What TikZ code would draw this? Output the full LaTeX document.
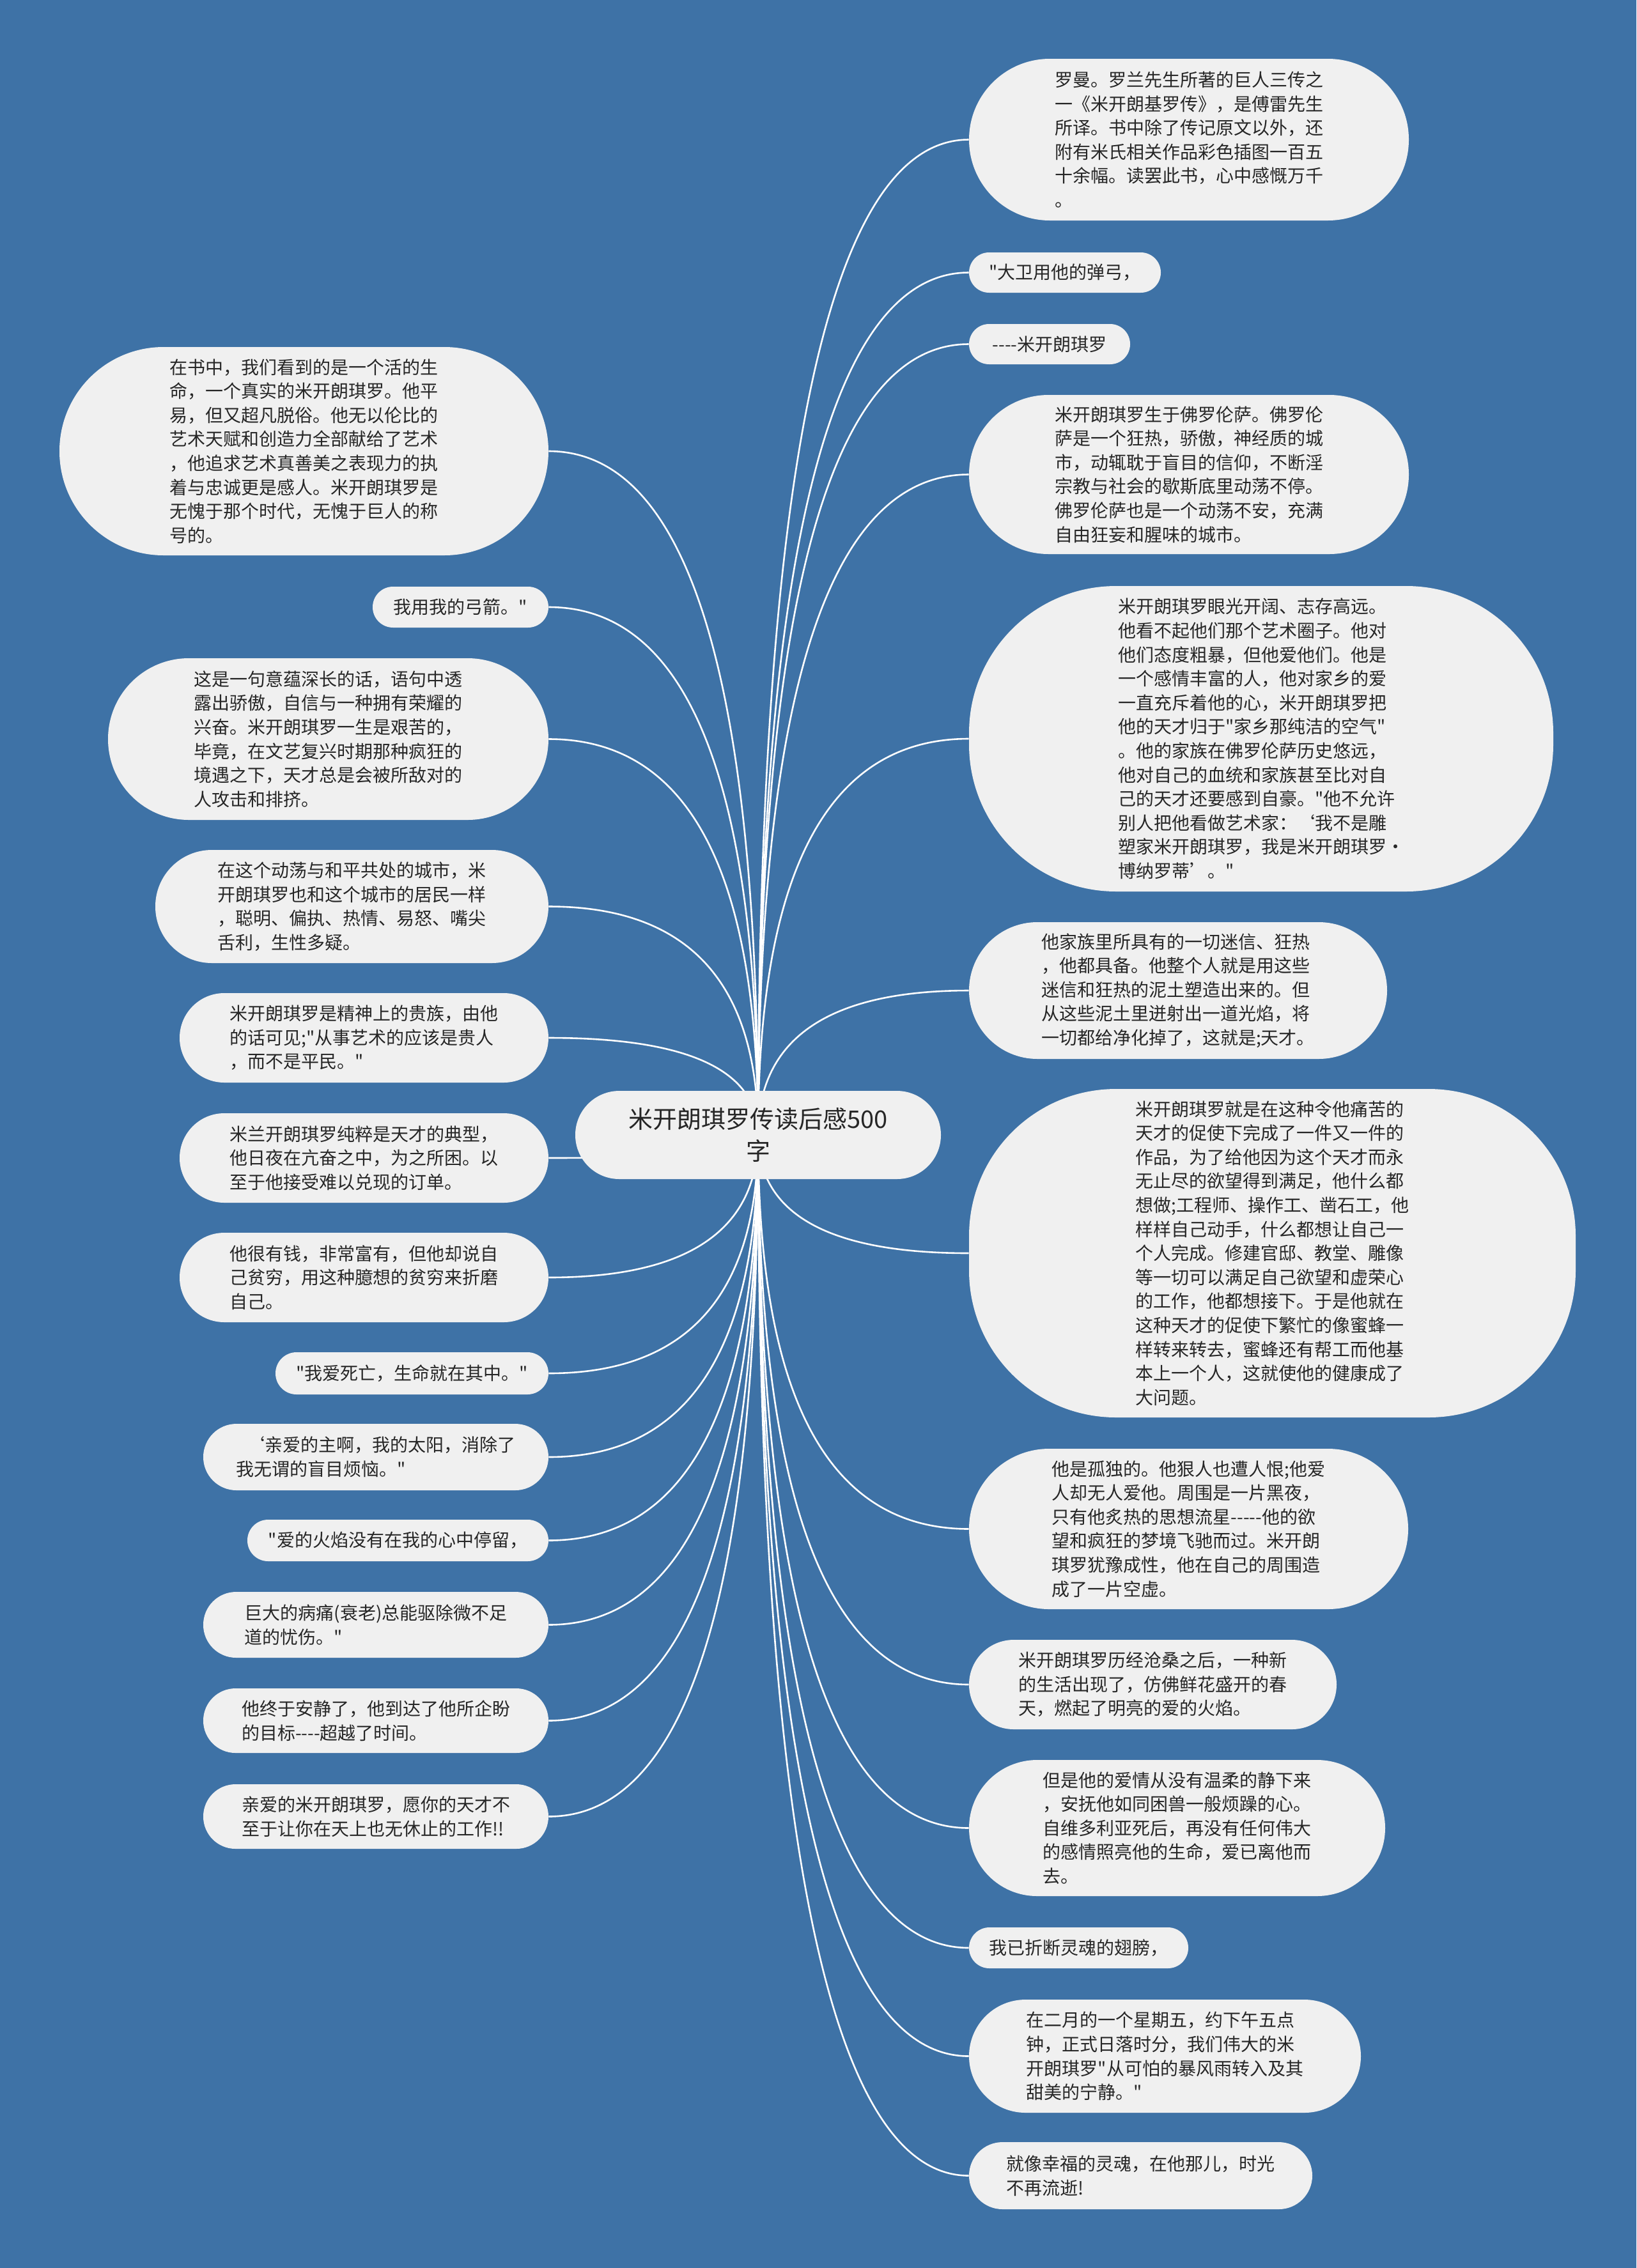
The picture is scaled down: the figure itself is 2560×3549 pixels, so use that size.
\documentclass[tikz,border=0pt]{standalone}
\usepackage{fontspec}
\setmainfont{Noto Sans CJK SC}[Ligatures=TeXOff]
\usetikzlibrary{calc}
\definecolor{bgc}{HTML}{3E72A6}
\definecolor{nodef}{HTML}{F0F0F0}
\definecolor{txtc}{HTML}{262626}
\pgfdeclarelayer{bglayer}
\pgfsetlayers{bglayer,main}
\tikzset{
  leaf/.style={fill=nodef, text=txtc, inner sep=0pt, align=left, font=\fontsize{14pt}{18.8pt}\selectfont},
  rootbox/.style={fill=nodef, text=txtc, inner sep=0pt, align=center, font=\fontsize{19pt}{25pt}\selectfont},
  conn/.style={draw=white, line width=1.3pt},
}
% name, left, top, right, bottom, style, text   (coordinates in reference pixels)
\newcommand\mmbox[7]{%
  \pgfmathsetmacro\mmW{(#4-#2)*0.5}%
  \pgfmathsetmacro\mmH{(#5-#3)*0.5}%
  \pgfmathsetmacro\mmR{min(\mmH/2-0.05,115)}%
  \node[#6, minimum width=\mmW pt, minimum height=\mmH pt, rounded corners=\mmR pt] (#1) at ({(#2+#4)/2},{(#3+#5)/2}) {#7};%
}
\newcommand\mmlink[2]{%
  \draw[conn] (root.center) .. controls ($(root.center)!0.667!(root.center |- #1.#2)$) and ($(#1.#2)!0.667!(root.center |- #1.#2)$) .. (#1.#2);%
}
\begin{document}
\begin{tikzpicture}[x=0.5pt, y=-0.5pt]
\useasboundingbox (0,0) rectangle (2560,3549);

\mmbox{root}{900}{1707}{1472}{1845}{rootbox}{米开朗琪罗传读后感500\\字}

% right column
\mmbox{R1}{1516}{92}{2204}{345}{leaf}{罗曼。罗兰先生所著的巨人三传之\\一《米开朗基罗传》，是傅雷先生\\所译。书中除了传记原文以外，还\\附有米氏相关作品彩色插图一百五\\十余幅。读罢此书，心中感慨万千\\。}
\mmbox{R2}{1516}{395}{1816}{458}{leaf}{"大卫用他的弹弓，}
\mmbox{R3}{1516}{507}{1768}{570}{leaf}{----米开朗琪罗}
\mmbox{R4}{1516}{618}{2204}{867}{leaf}{米开朗琪罗生于佛罗伦萨。佛罗伦\\萨是一个狂热，骄傲，神经质的城\\市，动辄耽于盲目的信仰，不断淫\\宗教与社会的歇斯底里动荡不停。\\佛罗伦萨也是一个动荡不安，充满\\自由狂妄和腥味的城市。}
\mmbox{R5}{1516}{917}{2430}{1395}{leaf}{米开朗琪罗眼光开阔、志存高远。\\他看不起他们那个艺术圈子。他对\\他们态度粗暴，但他爱他们。他是\\一个感情丰富的人，他对家乡的爱\\一直充斥着他的心，米开朗琪罗把\\他的天才归于"家乡那纯洁的空气"\\。他的家族在佛罗伦萨历史悠远，\\他对自己的血统和家族甚至比对自\\己的天才还要感到自豪。"他不允许\\别人把他看做艺术家：‘我不是雕\\塑家米开朗琪罗，我是米开朗琪罗·\\博纳罗蒂’。"}
\mmbox{R6}{1516}{1443}{2170}{1657}{leaf}{他家族里所具有的一切迷信、狂热\\，他都具备。他整个人就是用这些\\迷信和狂热的泥土塑造出来的。但\\从这些泥土里迸射出一道光焰，将\\一切都给净化掉了，这就是;天才。}
\mmbox{R7}{1516}{1704}{2465}{2218}{leaf}{米开朗琪罗就是在这种令他痛苦的\\天才的促使下完成了一件又一件的\\作品，为了给他因为这个天才而永\\无止尽的欲望得到满足，他什么都\\想做;工程师、操作工、凿石工，他\\样样自己动手，什么都想让自己一\\个人完成。修建官邸、教堂、雕像\\等一切可以满足自己欲望和虚荣心\\的工作，他都想接下。于是他就在\\这种天才的促使下繁忙的像蜜蜂一\\样转来转去，蜜蜂还有帮工而他基\\本上一个人，这就使他的健康成了\\大问题。}
\mmbox{R8}{1516}{2267}{2203}{2518}{leaf}{他是孤独的。他狠人也遭人恨;他爱\\人却无人爱他。周围是一片黑夜，\\只有他炙热的思想流星-----他的欲\\望和疯狂的梦境飞驰而过。米开朗\\琪罗犹豫成性，他在自己的周围造\\成了一片空虚。}
\mmbox{R9}{1516}{2566}{2091}{2706}{leaf}{米开朗琪罗历经沧桑之后，一种新\\的生活出现了，仿佛鲜花盛开的春\\天，燃起了明亮的爱的火焰。}
\mmbox{R10}{1516}{2754}{2167}{2967}{leaf}{但是他的爱情从没有温柔的静下来\\，安抚他如同困兽一般烦躁的心。\\自维多利亚死后，再没有任何伟大\\的感情照亮他的生命，爱已离他而\\去。}
\mmbox{R11}{1516}{3016}{1859}{3080}{leaf}{我已折断灵魂的翅膀，}
\mmbox{R12}{1516}{3129}{2129}{3306}{leaf}{在二月的一个星期五，约下午五点\\钟，正式日落时分，我们伟大的米\\开朗琪罗"从可怕的暴风雨转入及其\\甜美的宁静。"}
\mmbox{R13}{1516}{3352}{2053}{3457}{leaf}{就像幸福的灵魂，在他那儿，时光\\不再流逝!}

% left column
\mmbox{L1}{93}{543}{858}{869}{leaf}{在书中，我们看到的是一个活的生\\命，一个真实的米开朗琪罗。他平\\易，但又超凡脱俗。他无以伦比的\\艺术天赋和创造力全部献给了艺术\\，他追求艺术真善美之表现力的执\\着与忠诚更是感人。米开朗琪罗是\\无愧于那个时代，无愧于巨人的称\\号的。}
\mmbox{L2}{583}{918}{858}{982}{leaf}{我用我的弓箭。"}
\mmbox{L3}{169}{1030}{858}{1283}{leaf}{这是一句意蕴深长的话，语句中透\\露出骄傲，自信与一种拥有荣耀的\\兴奋。米开朗琪罗一生是艰苦的，\\毕竟，在文艺复兴时期那种疯狂的\\境遇之下，天才总是会被所敌对的\\人攻击和排挤。}
\mmbox{L4}{243}{1330}{858}{1507}{leaf}{在这个动荡与和平共处的城市，米\\开朗琪罗也和这个城市的居民一样\\，聪明、偏执、热情、易怒、嘴尖\\舌利，生性多疑。}
\mmbox{L5}{281}{1554}{858}{1694}{leaf}{米开朗琪罗是精神上的贵族，由他\\的话可见;"从事艺术的应该是贵人\\，而不是平民。"}
\mmbox{L6}{281}{1742}{858}{1882}{leaf}{米兰开朗琪罗纯粹是天才的典型，\\他日夜在亢奋之中，为之所困。以\\至于他接受难以兑现的订单。}
\mmbox{L7}{281}{1929}{858}{2069}{leaf}{他很有钱，非常富有，但他却说自\\己贫穷，用这种臆想的贫穷来折磨\\自己。}
\mmbox{L8}{431}{2116}{858}{2182}{leaf}{"我爱死亡，生命就在其中。"}
\mmbox{L9}{318}{2228}{858}{2332}{leaf}{\hspace*{0.6em}‘亲爱的主啊，我的太阳，消除了\\我无谓的盲目烦恼。"}
\mmbox{L10}{387}{2378}{858}{2443}{leaf}{"爱的火焰没有在我的心中停留，}
\mmbox{L11}{318}{2491}{858}{2594}{leaf}{巨大的病痛(衰老)总能驱除微不足\\道的忧伤。"}
\mmbox{L12}{318}{2642}{858}{2743}{leaf}{他终于安静了，他到达了他所企盼\\的目标----超越了时间。}
\mmbox{L13}{318}{2792}{858}{2893}{leaf}{亲爱的米开朗琪罗，愿你的天才不\\至于让你在天上也无休止的工作!!}

\begin{pgfonlayer}{bglayer}
  \fill[bgc] (0,0) rectangle (2560,3549);
  \foreach \n in {R1,R2,R3,R4,R5,R6,R7,R8,R9,R10,R11,R12,R13}{\mmlink{\n}{west}}
  \foreach \n in {L1,L2,L3,L4,L5,L6,L7,L8,L9,L10,L11,L12,L13}{\mmlink{\n}{east}}
\end{pgfonlayer}
\end{tikzpicture}
\end{document}
